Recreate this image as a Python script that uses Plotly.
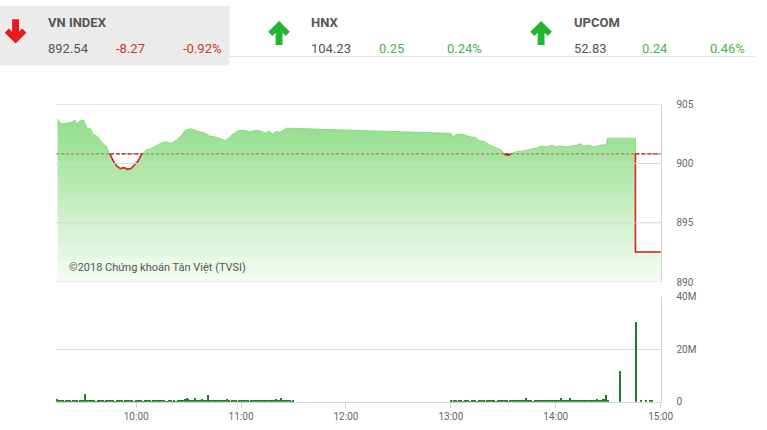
import plotly.graph_objects as go
import pandas as pd

W, H = 767, 430
DAY = "2018-07-05"
REF = 900.81  # previous close of VN-Index

# ---- VN-Index intraday line (time, value) ----
idx_time = [
    "09:15:00", "09:17:00", "09:20:00", "09:23:00", "09:25:00", "09:26:00", "09:28:00", "09:30:00",
    "09:32:00", "09:34:00", "09:35:00", "09:38:00", "09:40:00", "09:43:00", "09:45:00", "09:47:00",
    "09:49:00", "09:51:00", "09:53:00", "09:55:00", "09:57:00", "09:59:00", "10:01:00", "10:03:00",
    "10:06:00", "10:09:00", "10:11:00", "10:14:00", "10:17:00", "10:20:00", "10:23:00", "10:26:00",
    "10:28:00", "10:31:00", "10:34:00", "10:37:00", "10:40:00", "10:42:00", "10:45:00", "10:48:00",
    "10:51:00", "10:54:00", "10:57:00", "10:59:00", "11:02:00", "11:05:00", "11:08:00", "11:10:00",
    "11:12:00", "11:14:00", "11:16:00", "11:18:00", "11:20:00", "11:22:00", "11:24:00", "11:26:00",
    "13:00:00", "13:01:00", "13:03:00", "13:06:00", "13:09:00", "13:12:00", "13:14:00", "13:16:00",
    "13:19:00", "13:22:00", "13:25:00", "13:28:00", "13:30:00", "13:31:00", "13:33:00", "13:35:00",
    "13:38:00", "13:41:00", "13:44:00", "13:46:00", "13:49:00", "13:52:00", "13:55:00", "13:58:00",
    "14:00:00", "14:03:00", "14:06:00", "14:09:00", "14:12:00", "14:14:00", "14:16:00", "14:19:00",
    "14:22:00", "14:25:00", "14:28:00", "14:29:00", "14:29:30", "14:45:36", "14:45:36", "15:00:00",
]
idx_value = [
    903.75, 903.34, 903.39, 903.47, 903.66, 903.34, 903.61, 903.66,
    902.93, 902.93, 902.52, 902.24, 901.83, 901.42, 900.80, 900.19,
    899.78, 899.57, 899.65, 899.51, 899.57, 899.84, 900.19, 900.74,
    901.15, 901.29, 901.48, 901.70, 901.83, 901.70, 901.97, 902.38,
    902.79, 902.93, 902.79, 902.65, 902.52, 902.30, 902.24, 902.11,
    901.91, 902.30, 902.65, 902.79, 902.79, 902.65, 902.79, 902.76,
    902.70, 902.54, 902.76, 902.48, 902.70, 902.62, 902.81, 902.98,
    902.54, 902.24, 902.43, 902.48, 902.35, 902.21, 902.21, 901.94,
    901.86, 901.58, 901.39, 901.20, 900.98, 900.76, 900.71, 900.84,
    901.04, 901.04, 901.12, 901.20, 901.31, 901.48, 901.39, 901.53,
    901.39, 901.48, 901.39, 901.48, 901.53, 901.66, 901.48, 901.53,
    901.39, 901.53, 901.58, 901.53, 902.13, 902.13, 892.54, 892.54,
]

# ---- Volume (millions of shares), one bar per minute ----
vol_morning_start = "09:15"
vol_morning = [
    1.0, 0.4, 0.5, 0.4, 0.3, 0.5, 0.4, 0.6, 0.3, 0.4,
    0.5, 0.4, 0.3, 0.5, 0.4, 0.6, 3.0, 0.5, 0.4, 0.6,
    0.4, 0.5, 0.3, 0.4, 0.6, 0.5, 0.4, 0.3, 0.5, 0.4,
    0.6, 0.4, 0.5, 0.3, 0.4, 0.5, 0.6, 0.4, 0.3, 0.5,
    0.4, 0.5, 0.4, 0.6, 0.3, 0.5, 0.4, 0.4, 0.5, 0.3,
    0.4, 0.5, 0.6, 0.4, 0.3, 0.5, 0.4, 0.6, 0.7, 0.5,
    0.8, 0.4, 0.3, 0.2, 0.5, 0.6, 0.3, 0.4, 0.2, 0.6,
    0.5, 0.9, 0.6, 1.2, 1.7, 1.2, 0.8, 0.5, 0.7, 1.5,
    0.6, 0.8, 0.5, 1.2, 0.4, 0.6, 2.5, 0.5, 0.7, 0.4,
    0.6, 0.5, 0.4, 0.7, 0.5, 0.6, 0.4, 1.0, 0.5, 0.3,
    0.5, 0.4, 0.6, 0.3, 0.5, 0.4, 0.7, 0.5, 0.8, 0.4,
    0.3, 0.6, 0.5, 0.4, 0.7, 0.5, 0.9, 0.4, 0.6, 0.5,
    0.8, 0.6, 0.7, 0.9, 0.5, 1.0, 0.6, 0.8, 1.5, 0.7,
    0.5, 0.9, 0.4, 0.6, 0.3, 0.4,
]
vol_afternoon_start = "13:00"
vol_afternoon = [
    0.8, 0.3, 0.4, 0.5, 0.3, 0.4, 0.5, 0.3, 0.6, 0.4,
    0.5, 0.3, 0.4, 0.6, 0.4, 0.3, 0.5, 0.7, 0.4, 0.5,
    0.3, 0.6, 0.4, 0.5, 0.8, 0.4, 0.3, 0.5, 0.6, 0.4,
    0.5, 0.4, 0.6, 0.3, 0.5, 0.7, 0.4, 0.5, 0.6, 0.4,
    0.5, 0.6, 0.4, 1.7, 0.5, 0.4, 0.6, 0.3, 0.5, 0.4,
    0.6, 0.5, 0.7, 0.4, 0.5, 0.8, 0.6, 0.4, 0.9, 0.6,
    0.5, 0.7, 0.6, 1.5, 0.5, 0.8, 0.6, 0.7, 1.7, 0.6,
    0.5, 0.7, 0.6, 0.8, 0.5, 0.9, 0.7, 0.6, 0.8, 0.7,
    0.9, 0.6, 0.8, 0.7, 1.0, 0.8, 0.9, 1.1, 1.0, 2.7,
    0.5,
]
vol_late_time = ["14:37", "14:46", "14:49", "14:52", "14:54", "14:55"]
vol_late = [11.8, 30.4, 0.7, 0.6, 0.8, 0.5]

# ---- Header boxes ----
hdr_name = ["VN INDEX", "HNX", "UPCOM"]
hdr_last = ["892.54", "104.23", "52.83"]
hdr_chg = ["-8.27", "0.25", "0.24"]
hdr_pct = ["-0.92%", "0.24%", "0.46%"]
hdr_up = [False, True, True]

main_ticks = [890, 895, 900, 905]
vol_ticks = [0, 20, 40]
vol_ticklabels = ["0", "20M", "40M"]
time_ticks = ["10:00", "11:00", "12:00", "13:00", "14:00", "15:00"]

# ------------------------------------------------------------------
def px(x):
    return x / W


def py(y):
    return 1 - y / H


def path_px(pts):
    return "M " + " L ".join(f"{px(x):.5f},{py(y):.5f}" for x, y in pts) + " Z"


ts = pd.to_datetime([f"{DAY} {s}" for s in idx_time])
vals = list(idx_value)

# red (below reference) segments, clipped at the reference level
red_x, red_y, below_spans = [], [], []
start = ts[0] if vals[0] <= REF else None
for i in range(len(vals)):
    if vals[i] <= REF:
        red_x.append(ts[i]); red_y.append(vals[i])
    if i < len(vals) - 1:
        a, b = vals[i], vals[i + 1]
        if (a - REF) * (b - REF) < 0:
            frac = (REF - a) / (b - a)
            tc = ts[i] + (ts[i + 1] - ts[i]) * frac
            red_x.append(tc); red_y.append(REF)
            if a <= REF:
                below_spans.append((start, tc))
                red_x.append(None); red_y.append(None)
                start = None
            else:
                start = tc
if start is not None:
    below_spans.append((start, ts[-1]))

vol_t = (list(pd.date_range(f"{DAY} {vol_morning_start}", periods=len(vol_morning), freq="min"))
         + list(pd.date_range(f"{DAY} {vol_afternoon_start}", periods=len(vol_afternoon), freq="min"))
         + list(pd.to_datetime([f"{DAY} {s}" for s in vol_late_time])))
vol_v = vol_morning + vol_afternoon + vol_late

fig = go.Figure()

fig.add_trace(go.Scatter(
    x=ts, y=vals, mode="lines", fill="tozeroy",
    line=dict(color="#8cdb84", width=1),
    fillgradient=dict(type="vertical", start=890, stop=904,
                      colorscale=[[0, "#f8fdf7"], [1, "#8edd86"]]),
    xaxis="x", yaxis="y", hoverinfo="skip", showlegend=False,
))

# darker dashed reference where index is below it
for s0, s1 in below_spans:
    fig.add_trace(go.Scatter(
        x=[s0, s1], y=[REF, REF], mode="lines",
        line=dict(color="#b0201a", width=1.3, dash="4px,2px"),
        xaxis="x", yaxis="y", hoverinfo="skip", showlegend=False,
    ))

fig.add_trace(go.Scatter(
    x=red_x, y=red_y, mode="lines", connectgaps=False,
    line=dict(color="#d8261c", width=1.6),
    xaxis="x", yaxis="y", hoverinfo="skip", showlegend=False,
))

fig.add_trace(go.Bar(
    x=vol_t, y=vol_v, width=40000, marker=dict(color="#237b23", line=dict(width=0)),
    xaxis="x2", yaxis="y2", hoverinfo="skip", showlegend=False,
))

shapes = []
# header background and separators
shapes.append(dict(type="rect", xref="paper", yref="paper", x0=0, x1=px(233), y0=py(61), y1=1,
                   fillcolor="#ebebeb", line=dict(width=0), layer="below"))
shapes.append(dict(type="line", xref="paper", yref="paper", x0=px(233), x1=1, y0=py(52), y1=py(52),
                   line=dict(color="#e2e2e2", width=1)))

arrow_cx = [15.8, 283.5, 549.7]
for cx, up in zip(arrow_cx, hdr_up):
    if up:
        pts = [(cx - 3.5, 40), (cx + 3.5, 40), (cx + 3.5, 27.5), (cx + 6.8, 30.8), (cx + 11, 26.6),
               (cx, 15.5), (cx - 11, 26.6), (cx - 6.8, 30.8), (cx - 3.5, 27.5)]
        col = "#22b534"
    else:
        pts = [(cx - 3.5, 13.5), (cx + 3.5, 13.5), (cx + 3.5, 26.5), (cx + 6.8, 23.2), (cx + 11, 27.4),
               (cx, 38.5), (cx - 11, 27.4), (cx - 6.8, 23.2), (cx - 3.5, 26.5)]
        col = "#e8191f"
    shapes.append(dict(type="path", xref="paper", yref="paper", path=path_px(pts),
                       fillcolor=col, line=dict(width=0)))

# main chart gridlines drawn above the area fill
for v in main_ticks:
    shapes.append(dict(type="line", xref="x domain", yref="y", x0=0, x1=1, y0=v, y1=v,
                       line=dict(color="#d6d6d6", width=1), layer="above"))
shapes.append(dict(type="line", xref="x domain", yref="y", x0=0, x1=1, y0=REF, y1=REF,
                   line=dict(color="rgba(165,40,25,0.6)", width=1, dash="3px,2px"), layer="above"))

annotations = []
name_x = [47, 314, 581]
col_chg_x = [116, 383, 650]
col_pct_x = [184, 452, 719]
for i in range(3):
    c = "#4cb050" if hdr_up[i] else "#d6332e"
    annotations.append(dict(x=px(name_x[i]), y=py(17), xref="paper", yref="paper", text=hdr_name[i],
                            showarrow=False, xanchor="left", yanchor="middle",
                            font=dict(family="Roboto", size=13, color="#555555", weight="bold")))
    annotations.append(dict(x=px(name_x[i]), y=py(43.5), xref="paper", yref="paper", text=hdr_last[i],
                            showarrow=False, xanchor="left", yanchor="middle",
                            font=dict(family="Roboto", size=13, color="#555555")))
    annotations.append(dict(x=px(col_chg_x[i]), y=py(43.5), xref="paper", yref="paper", text=hdr_chg[i],
                            showarrow=False, xanchor="left", yanchor="middle",
                            font=dict(family="Roboto", size=13, color=c)))
    annotations.append(dict(x=px(col_pct_x[i]), y=py(43.5), xref="paper", yref="paper", text=hdr_pct[i],
                            showarrow=False, xanchor="left", yanchor="middle",
                            font=dict(family="Roboto", size=13, color=c)))

annotations.append(dict(x=px(68), y=py(269.5), xref="paper", yref="paper",
                        text="©2018 Chứng khoán Tân Việt (TVSI)", showarrow=False,
                        xanchor="left", yanchor="middle",
                        font=dict(family="Roboto", size=11, color="#555555")))

tick_font = dict(family="Roboto", size=10, color="#666666")
xdom = [px(57), px(672)]
xrange = [f"{DAY} 09:14:12", f"{DAY} 15:00:30"]

fig.update_layout(
    width=W, height=H, margin=dict(l=0, r=0, t=0, b=0),
    paper_bgcolor="white", plot_bgcolor="rgba(0,0,0,0)",
    shapes=shapes, annotations=annotations, showlegend=False, bargap=0,
    xaxis=dict(domain=xdom, type="date", range=xrange, matches="x2", showticklabels=False,
               showgrid=False, zeroline=False, showline=False, anchor="y"),
    yaxis=dict(domain=[py(284), py(101)], range=[890, 905], side="right", anchor="x",
               tickvals=main_ticks, showgrid=False, zeroline=False,
               showline=True, linecolor="#cdd4db", linewidth=1, ticks="",
               ticklabelstandoff=12, tickfont=tick_font),
    xaxis2=dict(domain=xdom, type="date", range=xrange, anchor="y2",
                tickvals=[f"{DAY} {s}" for s in time_ticks], ticktext=time_ticks,
                showgrid=False, zeroline=False, showline=True, linecolor="#cdd4db", linewidth=1,
                ticks="outside", ticklen=5, tickcolor="#cdd4db", tickfont=tick_font),
    yaxis2=dict(domain=[py(407), py(299)], range=[0, 40], side="right", anchor="x2",
                tickvals=vol_ticks, ticktext=vol_ticklabels, showgrid=True, gridcolor="#dcdcdc",
                zeroline=False, showline=True, linecolor="#cdd4db", linewidth=1, ticks="",
                ticklabelstandoff=12, tickfont=tick_font),
)

fig.write_html(
    "out.html",
    config={"displayModeBar": False},
    post_script="document.body.style.margin='0';document.body.style.padding='0';"
                "document.documentElement.style.overflow='hidden';",
)
